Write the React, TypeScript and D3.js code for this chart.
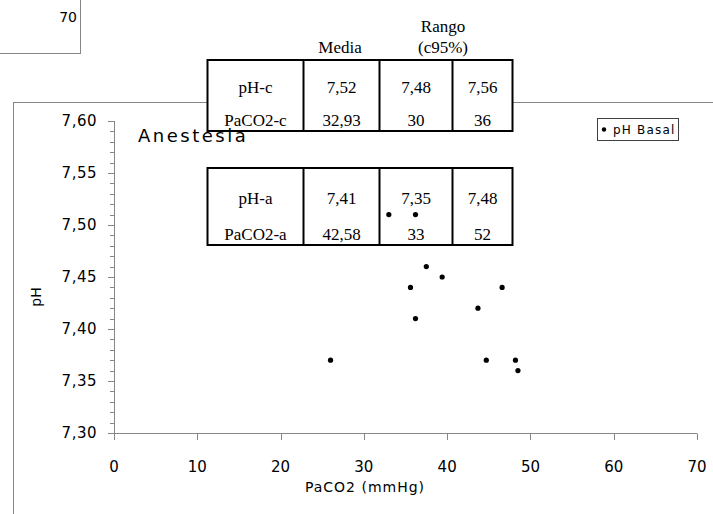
import { useRef, useEffect } from 'react';
import * as d3 from 'd3';

// PaCO2 (mmHg) vs pH basal
const paco2 = [26, 33, 36.2, 35.6, 37.5, 39.4, 36.2, 43.7, 46.6, 44.7, 48.2, 48.5];
const phBasal = [7.37, 7.51, 7.51, 7.44, 7.46, 7.45, 7.41, 7.42, 7.44, 7.37, 7.37, 7.36];

const xTicks = [0, 10, 20, 30, 40, 50, 60, 70];
const yTicks = [7.3, 7.35, 7.4, 7.45, 7.5, 7.55, 7.6];

const tableC = [
  ['pH-c', '7,52', '7,48', '7,56'],
  ['PaCO2-c', '32,93', '30', '36'],
];
const tableA = [
  ['pH-a', '7,41', '7,35', '7,48'],
  ['PaCO2-a', '42,58', '33', '52'],
];

const AXIS = '#868686';
const SANS = '"DejaVu Sans", Verdana, sans-serif';
const SERIF = '"Liberation Serif", "Times New Roman", serif';

export default function App() {
  const svgRef = useRef<SVGSVGElement>(null);

  useEffect(() => {
    const svg = d3.select(svgRef.current);
    svg.selectAll('*').remove();

    const x = d3.scaleLinear().domain([0, 70]).range([114, 697]);
    const y = d3.scaleLinear().domain([7.3, 7.6]).range([433, 121]);

    // leftover frame of a neighbouring chart
    svg.append('rect').attr('x', -10).attr('y', -10).attr('width', 90.5).attr('height', 63.5)
      .attr('fill', 'white').attr('stroke', AXIS);
    svg.append('text').attr('x', 77).attr('y', 22).attr('text-anchor', 'end')
      .attr('font-family', SANS).attr('font-size', 14).attr('fill', '#000').text('70');

    // chart frame
    svg.append('rect').attr('x', 13.5).attr('y', 102.5).attr('width', 720).attr('height', 430)
      .attr('fill', 'white').attr('stroke', AXIS);

    // y axis with minor ticks
    const yMinor = d3.range(7.3, 7.6001, 0.01);
    const gy = svg.append('g');
    gy.append('line').attr('x1', 114.5).attr('x2', 114.5).attr('y1', y(7.6)).attr('y2', y(7.3))
      .attr('stroke', AXIS);
    yMinor.forEach(v => {
      gy.append('line').attr('x1', 110).attr('x2', 114.5)
        .attr('y1', Math.round(y(v)) + 0.5).attr('y2', Math.round(y(v)) + 0.5).attr('stroke', AXIS);
    });
    yTicks.forEach(v => {
      gy.append('line').attr('x1', 108).attr('x2', 114.5)
        .attr('y1', Math.round(y(v)) + 0.5).attr('y2', Math.round(y(v)) + 0.5).attr('stroke', AXIS);
      gy.append('text').attr('x', 97).attr('y', y(v) + 5).attr('text-anchor', 'end')
        .attr('font-family', SANS).attr('font-size', 15).attr('letter-spacing', 0.5)
        .attr('fill', '#000').text(d3.format('.2f')(v).replace('.', ','));
    });

    // x axis
    const gx = svg.append('g');
    gx.append('line').attr('x1', x(0)).attr('x2', x(70)).attr('y1', 433.5).attr('y2', 433.5)
      .attr('stroke', AXIS);
    xTicks.forEach(v => {
      gx.append('line').attr('x1', Math.round(x(v)) + 0.5).attr('x2', Math.round(x(v)) + 0.5)
        .attr('y1', 433.5).attr('y2', 440).attr('stroke', AXIS);
      gx.append('text').attr('x', x(v)).attr('y', 472).attr('text-anchor', 'middle')
        .attr('font-family', SANS).attr('font-size', 15).attr('fill', '#000').text(v);
    });

    svg.append('text').attr('x', 365).attr('y', 492).attr('text-anchor', 'middle')
      .attr('font-family', SANS).attr('font-size', 14).attr('letter-spacing', 1)
      .attr('fill', '#000').text('PaCO2 (mmHg)');
    svg.append('text').attr('transform', 'translate(41,297) rotate(-90)').attr('text-anchor', 'middle')
      .attr('font-family', SANS).attr('font-size', 14).attr('fill', '#000').text('pH');

    // tables
    const drawTable = (rows: string[][], top: number, h: number, baselines: number[]) => {
      const cols = [207.5, 303.5, 379.5, 452.5, 512.5];
      const g = svg.append('g');
      g.append('rect').attr('x', cols[0]).attr('y', top).attr('width', cols[4] - cols[0])
        .attr('height', h).attr('fill', 'white').attr('stroke', '#000').attr('stroke-width', 2);
      cols.slice(1, 4).forEach(c => {
        g.append('line').attr('x1', c).attr('x2', c).attr('y1', top).attr('y2', top + h)
          .attr('stroke', '#000').attr('stroke-width', 2);
      });
      rows.forEach((row, ri) => {
        row.forEach((cell, ci) => {
          g.append('text').attr('x', (cols[ci] + cols[ci + 1]) / 2).attr('y', baselines[ri])
            .attr('text-anchor', 'middle').attr('font-family', SERIF).attr('font-size', 17)
            .attr('fill', '#000').text(cell);
        });
      });
    };

    svg.append('text').attr('x', 340).attr('y', 53).attr('text-anchor', 'middle')
      .attr('font-family', SERIF).attr('font-size', 17).attr('fill', '#000').text('Media');
    svg.append('text').attr('x', 443).attr('y', 32).attr('text-anchor', 'middle')
      .attr('font-family', SERIF).attr('font-size', 17).attr('fill', '#000').text('Rango');
    svg.append('text').attr('x', 443).attr('y', 53).attr('text-anchor', 'middle')
      .attr('font-family', SERIF).attr('font-size', 17).attr('fill', '#000').text('(c95%)');

    drawTable(tableC, 60, 71, [93, 126]);
    drawTable(tableA, 168, 77, [204, 240]);

    svg.append('text').attr('x', 138).attr('y', 142)
      .attr('font-family', SANS).attr('font-size', 18).attr('letter-spacing', 2.5)
      .attr('fill', '#000').text('Anestesia');

    // points
    svg.append('g').selectAll('circle').data(paco2).join('circle')
      .attr('cx', d => x(d)).attr('cy', (_, i) => y(phBasal[i])).attr('r', 2.6).attr('fill', '#000');

    // legend
    const lg = svg.append('g');
    lg.append('rect').attr('x', 597.5).attr('y', 118.5).attr('width', 81).attr('height', 22)
      .attr('fill', 'white').attr('stroke', '#404040');
    lg.append('circle').attr('cx', 604).attr('cy', 129.5).attr('r', 2.2).attr('fill', '#000');
    lg.append('text').attr('x', 613).attr('y', 134).attr('font-family', SANS)
      .attr('font-size', 12).attr('letter-spacing', 1.2).attr('fill', '#000').text('pH Basal');
  }, []);

  return (
    <svg ref={svgRef} width={713} height={514}
      style={{ position: 'absolute', left: 0, top: 0, background: 'white' }} />
  );
}
